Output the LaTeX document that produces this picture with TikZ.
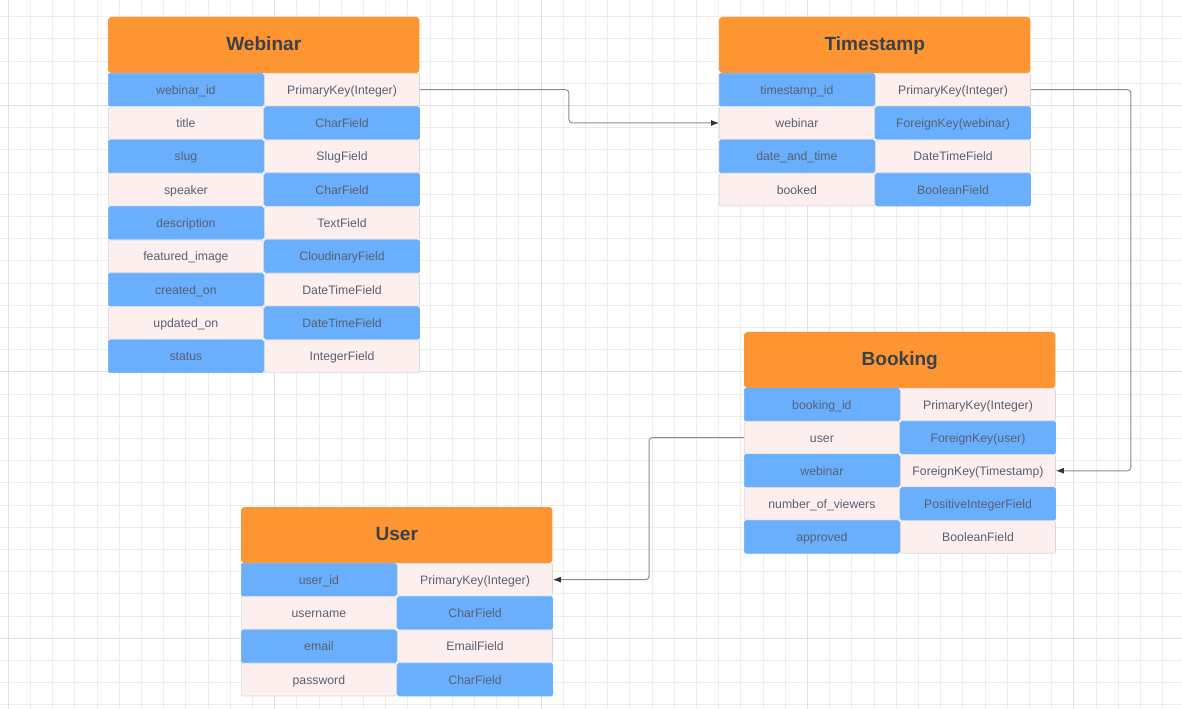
\documentclass[tikz,border=0pt]{standalone}
\usepackage{fontspec}
\setmainfont{Liberation Sans}
\usepackage{tikz}
\usetikzlibrary{arrows.meta}
\usetikzlibrary{positioning}

\definecolor{headorange}{HTML}{FD9532}
\definecolor{keyblue}{HTML}{6AAFFE}
\definecolor{fieldpink}{HTML}{FDEFEE}
\definecolor{headtext}{HTML}{3C4149}
\definecolor{celltext}{HTML}{586070}
\definecolor{gridminor}{HTML}{EDEDED}
\definecolor{gridmajor}{HTML}{E0E0E0}

\tikzset{
	tablehead/.style={rectangle,rounded corners=2.5pt,fill=headorange,minimum width=233.6pt,minimum height=42pt,inner sep=0pt,text height=10.5pt,text depth=2.5pt,text=headtext,font=\fontsize{14.3}{16}\selectfont\bfseries},
	fieldcell/.style={rectangle,rounded corners=1.5pt,line width=0.5pt,minimum width=116.3pt,minimum height=24.5pt,inner sep=0pt,text height=7.7pt,text depth=0.7pt,text=celltext,font=\fontsize{9.2}{11}\selectfont},
	fklink/.style={draw=black!45,line width=0.75pt,rounded corners=2.5pt,-{Latex[length=6pt,width=4.5pt,color=black!80]}}
}

\begin{document}
\begin{tikzpicture}
	[x=0.75pt,y=-0.75pt]
	\useasboundingbox (0,0) rectangle (1182,709);
	\fill[white] (0,0) rectangle (1182,709);
	% grid
	\foreach \k in {0,...,53}
	\draw[gridminor,line width=0.75pt] ({8.3+22.2*\k},0) -- ({8.3+22.2*\k},709);
	\foreach \k in {0,...,32}
	\draw[gridminor,line width=0.75pt] (0,{-5.5+22.2*\k}) -- (1182,{-5.5+22.2*\k});
	\foreach \gx in {8.3,274.7,541.1,807.5,1073.9}
	\draw[gridmajor,line width=0.75pt] (\gx,0) -- (\gx,709);
	\foreach \gy in {105.5,371.9,638.3}
	\draw[gridmajor,line width=0.75pt] (0,\gy) -- (1182,\gy);
	
	% Webinar
	\node[tablehead] (web) at (263.75,45) {Webinar};
	\foreach \name/\kind [count=\i] in
	{webinar\_id/PrimaryKey(Integer), title/CharField, slug/SlugField, speaker/CharField, description/TextField, featured\_image/CloudinaryField, created\_on/DateTimeField, updated\_on/DateTimeField, status/IntegerField}
	{
		\ifodd\i \def\lc{keyblue}\def\ld{keyblue}\def\rc{fieldpink}\def\rd{black!15}
		\else \def\lc{fieldpink}\def\ld{black!15}\def\rc{keyblue}\def\rd{keyblue}\fi
		\node[fieldcell,fill=\lc,draw=\ld] (web-l\i) at (185.9,{73+33.33*(\i-0.5)}) {\name};
		\node[fieldcell,fill=\rc,draw=\rd,right=0.3pt of web-l\i] (web-r\i) {\kind};
	}
	
	% Timestamp
	\node[tablehead] (ts) at (874.75,45) {Timestamp};
	\foreach \name/\kind [count=\i] in
	{timestamp\_id/PrimaryKey(Integer), webinar/ForeignKey(webinar), date\_and\_time/DateTimeField, booked/BooleanField}
	{
		\ifodd\i \def\lc{keyblue}\def\ld{keyblue}\def\rc{fieldpink}\def\rd{black!15}
		\else \def\lc{fieldpink}\def\ld{black!15}\def\rc{keyblue}\def\rd{keyblue}\fi
		\node[fieldcell,fill=\lc,draw=\ld] (ts-l\i) at (796.9,{73+33.33*(\i-0.5)}) {\name};
		\node[fieldcell,fill=\rc,draw=\rd,right=0.3pt of ts-l\i] (ts-r\i) {\kind};
	}
	
	% Booking
	\node[tablehead] (bk) at (899.75,360) {Booking};
	\foreach \name/\kind [count=\i] in
	{booking\_id/PrimaryKey(Integer), user/ForeignKey(user), webinar/ForeignKey(Timestamp), number\_of\_viewers/PositiveIntegerField, approved/BooleanField}
	{
		\ifodd\i \def\lc{keyblue}\def\ld{keyblue}\def\rc{fieldpink}\def\rd{black!15}
		\else \def\lc{fieldpink}\def\ld{black!15}\def\rc{keyblue}\def\rd{keyblue}\fi
		\node[fieldcell,fill=\lc,draw=\ld] (bk-l\i) at (821.9,{388+33.1*(\i-0.5)}) {\name};
		\node[fieldcell,fill=\rc,draw=\rd,right=0.3pt of bk-l\i] (bk-r\i) {\kind};
	}
	
	% User
	\node[tablehead] (usr) at (396.75,535) {User};
	\foreach \name/\kind [count=\i] in
	{user\_id/PrimaryKey(Integer), username/CharField, email/EmailField, password/CharField}
	{
		\ifodd\i \def\lc{keyblue}\def\ld{keyblue}\def\rc{fieldpink}\def\rd{black!15}
		\else \def\lc{fieldpink}\def\ld{black!15}\def\rc{keyblue}\def\rd{keyblue}\fi
		\node[fieldcell,fill=\lc,draw=\ld] (usr-l\i) at (318.9,{563+33.33*(\i-0.5)}) {\name};
		\node[fieldcell,fill=\rc,draw=\rd,right=0.3pt of usr-l\i] (usr-r\i) {\kind};
	}
	
	% relations
	\draw[fklink] (web-r1.east) -- ++(149,0) |- (ts-l2.west);
	\draw[fklink] (ts-r1.east) -- ++(100,0) |- (bk-r3.east);
	\draw[fklink] (bk-l2.west) -- ++(-95,0) |- (usr-r1.east);
\end{tikzpicture}
\end{document}
